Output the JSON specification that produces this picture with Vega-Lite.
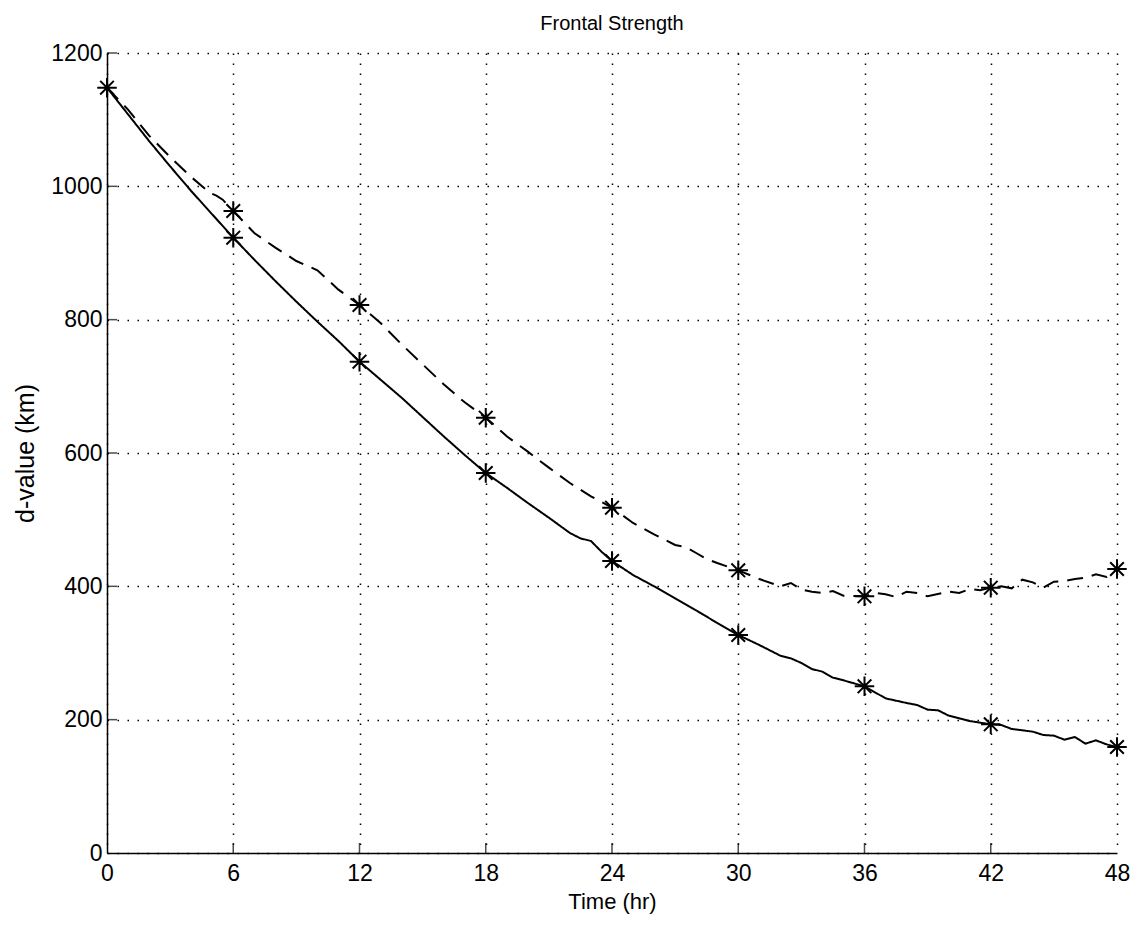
{
  "$schema": "https://vega.github.io/schema/vega-lite/v6.json",
  "width": 1010,
  "height": 800,
  "autosize": {"type": "none"},
  "padding": {"left": 107, "top": 53, "right": 21, "bottom": 76},
  "background": "white",
  "title": {"text": "Frontal Strength", "fontSize": 20, "font": "Liberation Sans", "fontWeight": "normal", "color": "black", "offset": 8},
  "config": {
    "view": {"stroke": null},
    "axis": {
      "labelFont": "Liberation Sans", "labelColor": "black",
      "titleFont": "Liberation Sans", "titleFontWeight": "normal", "titleColor": "black",
      "domainColor": "black", "domainWidth": 1.5,
      "ticks": false,
      "grid": true, "gridColor": "black", "gridOpacity": 1, "gridDash": [1.5, 8.5], "gridWidth": 1.5
    }
  },
  "datasets": {
    "lines": [
      {"t": 0, "d": 1148, "s": "A"}, {"t": 1, "d": 1108, "s": "A"}, {"t": 2, "d": 1068, "s": "A"}, {"t": 3, "d": 1030, "s": "A"},
      {"t": 4, "d": 993, "s": "A"}, {"t": 5, "d": 958, "s": "A"}, {"t": 6, "d": 923, "s": "A"}, {"t": 7, "d": 890, "s": "A"},
      {"t": 8, "d": 858, "s": "A"}, {"t": 9, "d": 827, "s": "A"}, {"t": 10, "d": 797, "s": "A"}, {"t": 11, "d": 768, "s": "A"},
      {"t": 12, "d": 737, "s": "A"}, {"t": 13, "d": 710, "s": "A"}, {"t": 14, "d": 683, "s": "A"}, {"t": 15, "d": 654, "s": "A"},
      {"t": 16, "d": 625, "s": "A"}, {"t": 17, "d": 597, "s": "A"}, {"t": 18, "d": 570, "s": "A"}, {"t": 19, "d": 548, "s": "A"},
      {"t": 20, "d": 525, "s": "A"}, {"t": 21, "d": 503, "s": "A"}, {"t": 22, "d": 480, "s": "A"}, {"t": 22.5, "d": 472, "s": "A"},
      {"t": 23, "d": 468, "s": "A"}, {"t": 23.5, "d": 452, "s": "A"}, {"t": 24, "d": 438, "s": "A"}, {"t": 25, "d": 417, "s": "A"},
      {"t": 26, "d": 400, "s": "A"}, {"t": 27, "d": 382, "s": "A"}, {"t": 28, "d": 364, "s": "A"}, {"t": 29, "d": 345, "s": "A"},
      {"t": 30, "d": 327, "s": "A"}, {"t": 31, "d": 312, "s": "A"}, {"t": 32, "d": 296, "s": "A"}, {"t": 32.5, "d": 292, "s": "A"},
      {"t": 33, "d": 285, "s": "A"}, {"t": 33.5, "d": 276, "s": "A"}, {"t": 34, "d": 272, "s": "A"}, {"t": 34.5, "d": 263, "s": "A"},
      {"t": 35, "d": 259, "s": "A"}, {"t": 36, "d": 250, "s": "A"}, {"t": 37, "d": 232, "s": "A"}, {"t": 38, "d": 225, "s": "A"},
      {"t": 38.5, "d": 222, "s": "A"}, {"t": 39, "d": 215, "s": "A"}, {"t": 39.5, "d": 214, "s": "A"}, {"t": 40, "d": 206, "s": "A"},
      {"t": 41, "d": 198, "s": "A"}, {"t": 42, "d": 193, "s": "A"}, {"t": 42.5, "d": 192, "s": "A"}, {"t": 43, "d": 186, "s": "A"},
      {"t": 44, "d": 182, "s": "A"}, {"t": 44.5, "d": 177, "s": "A"}, {"t": 45, "d": 176, "s": "A"}, {"t": 45.5, "d": 170, "s": "A"},
      {"t": 46, "d": 174, "s": "A"}, {"t": 46.5, "d": 164, "s": "A"}, {"t": 47, "d": 169, "s": "A"}, {"t": 47.5, "d": 163, "s": "A"},
      {"t": 48, "d": 159, "s": "A"},
      {"t": 0, "d": 1148, "s": "B"}, {"t": 1, "d": 1115, "s": "B"}, {"t": 2, "d": 1076, "s": "B"}, {"t": 3, "d": 1044, "s": "B"},
      {"t": 4, "d": 1014, "s": "B"}, {"t": 4.9, "d": 990, "s": "B"}, {"t": 5.2, "d": 986, "s": "B"}, {"t": 5.5, "d": 980, "s": "B"},
      {"t": 6, "d": 963, "s": "B"}, {"t": 7, "d": 930, "s": "B"}, {"t": 8, "d": 908, "s": "B"}, {"t": 9, "d": 888, "s": "B"},
      {"t": 10, "d": 874, "s": "B"}, {"t": 11, "d": 845, "s": "B"}, {"t": 12, "d": 822, "s": "B"}, {"t": 13, "d": 795, "s": "B"},
      {"t": 14, "d": 763, "s": "B"}, {"t": 15, "d": 733, "s": "B"}, {"t": 16, "d": 703, "s": "B"}, {"t": 17, "d": 676, "s": "B"},
      {"t": 18, "d": 653, "s": "B"}, {"t": 19, "d": 625, "s": "B"}, {"t": 20, "d": 602, "s": "B"}, {"t": 21, "d": 578, "s": "B"},
      {"t": 22, "d": 555, "s": "B"}, {"t": 23, "d": 535, "s": "B"}, {"t": 24, "d": 518, "s": "B"}, {"t": 25, "d": 495, "s": "B"},
      {"t": 26, "d": 478, "s": "B"}, {"t": 27, "d": 462, "s": "B"}, {"t": 27.5, "d": 459, "s": "B"}, {"t": 28, "d": 450, "s": "B"},
      {"t": 28.5, "d": 441, "s": "B"}, {"t": 29, "d": 435, "s": "B"}, {"t": 30, "d": 424, "s": "B"}, {"t": 31, "d": 411, "s": "B"},
      {"t": 32, "d": 400, "s": "B"}, {"t": 32.5, "d": 405, "s": "B"}, {"t": 33, "d": 395, "s": "B"}, {"t": 33.5, "d": 392, "s": "B"},
      {"t": 34, "d": 390, "s": "B"}, {"t": 34.5, "d": 393, "s": "B"}, {"t": 35, "d": 386, "s": "B"}, {"t": 36, "d": 385, "s": "B"},
      {"t": 36.5, "d": 390, "s": "B"}, {"t": 37, "d": 388, "s": "B"}, {"t": 37.5, "d": 384, "s": "B"}, {"t": 38, "d": 392, "s": "B"},
      {"t": 38.5, "d": 390, "s": "B"}, {"t": 39, "d": 385, "s": "B"}, {"t": 40, "d": 392, "s": "B"}, {"t": 40.5, "d": 390, "s": "B"},
      {"t": 41, "d": 396, "s": "B"}, {"t": 41.5, "d": 394, "s": "B"}, {"t": 42, "d": 398, "s": "B"}, {"t": 42.5, "d": 400, "s": "B"},
      {"t": 43, "d": 397, "s": "B"}, {"t": 43.5, "d": 410, "s": "B"}, {"t": 44, "d": 406, "s": "B"}, {"t": 44.5, "d": 398, "s": "B"},
      {"t": 45, "d": 407, "s": "B"}, {"t": 45.5, "d": 408, "s": "B"}, {"t": 46, "d": 411, "s": "B"}, {"t": 46.5, "d": 413, "s": "B"},
      {"t": 47, "d": 418, "s": "B"}, {"t": 47.5, "d": 414, "s": "B"}, {"t": 48, "d": 426, "s": "B"}
    ],
    "stars": [
      {"t": 0, "d": 1148, "s": "A"}, {"t": 6, "d": 923, "s": "A"}, {"t": 12, "d": 737, "s": "A"}, {"t": 18, "d": 570, "s": "A"},
      {"t": 24, "d": 438, "s": "A"}, {"t": 30, "d": 327, "s": "A"}, {"t": 36, "d": 250, "s": "A"}, {"t": 42, "d": 193, "s": "A"},
      {"t": 48, "d": 159, "s": "A"},
      {"t": 6, "d": 963, "s": "B"}, {"t": 12, "d": 822, "s": "B"}, {"t": 18, "d": 653, "s": "B"},
      {"t": 24, "d": 518, "s": "B"}, {"t": 30, "d": 424, "s": "B"}, {"t": 36, "d": 385, "s": "B"}, {"t": 42, "d": 398, "s": "B"},
      {"t": 48, "d": 426, "s": "B"}
    ],
    "xticks": [{"t": 6}, {"t": 12}, {"t": 18}, {"t": 24}, {"t": 30}, {"t": 36}, {"t": 42}],
    "yticks": [{"d": 200}, {"d": 400}, {"d": 600}, {"d": 800}, {"d": 1000}, {"d": 1200}]
  },
  "layer": [
    {
      "data": {"name": "lines"},
      "mark": {"type": "line", "color": "black", "strokeWidth": 2, "clip": false},
      "encoding": {
        "x": {"field": "t", "type": "quantitative", "scale": {"domain": [0, 48], "nice": false},
              "axis": {"values": [0, 6, 12, 18, 24, 30, 36, 42, 48], "title": "Time (hr)", "titleFontSize": 22, "labelFontSize": 23, "labelPadding": 9, "titlePadding": 6, "labelFlush": false}},
        "y": {"field": "d", "type": "quantitative", "scale": {"domain": [0, 1200], "nice": false},
              "axis": {"values": [0, 200, 400, 600, 800, 1000, 1200], "format": "d", "title": "d-value (km)", "titleFontSize": 25, "labelFontSize": 23, "labelPadding": 5, "titlePadding": 12}},
        "detail": {"field": "s"},
        "strokeDash": {"field": "s", "type": "nominal", "scale": {"domain": ["A", "B"], "range": [[1, 0], [16, 9]]}, "legend": null}
      }
    },
    {
      "data": {"name": "xticks"},
      "mark": {"type": "tick", "orient": "vertical", "color": "black", "size": 10, "thickness": 1.5, "yOffset": -5},
      "encoding": {"x": {"field": "t", "type": "quantitative"}, "y": {"datum": 0}}
    },
    {
      "data": {"name": "yticks"},
      "mark": {"type": "tick", "orient": "horizontal", "color": "black", "size": 10, "thickness": 1.5, "xOffset": 5},
      "encoding": {"y": {"field": "d", "type": "quantitative"}, "x": {"datum": 0}}
    },
    {
      "data": {"name": "stars"},
      "mark": {"type": "point", "shape": "M-1,0L1,0M0,-1L0,1M-0.7,-0.7L0.7,0.7M-0.7,0.7L0.7,-0.7", "filled": false, "stroke": "black", "strokeWidth": 2, "size": 380, "opacity": 1, "clip": false},
      "encoding": {
        "x": {"field": "t", "type": "quantitative"},
        "y": {"field": "d", "type": "quantitative"}
      }
    }
  ]
}
